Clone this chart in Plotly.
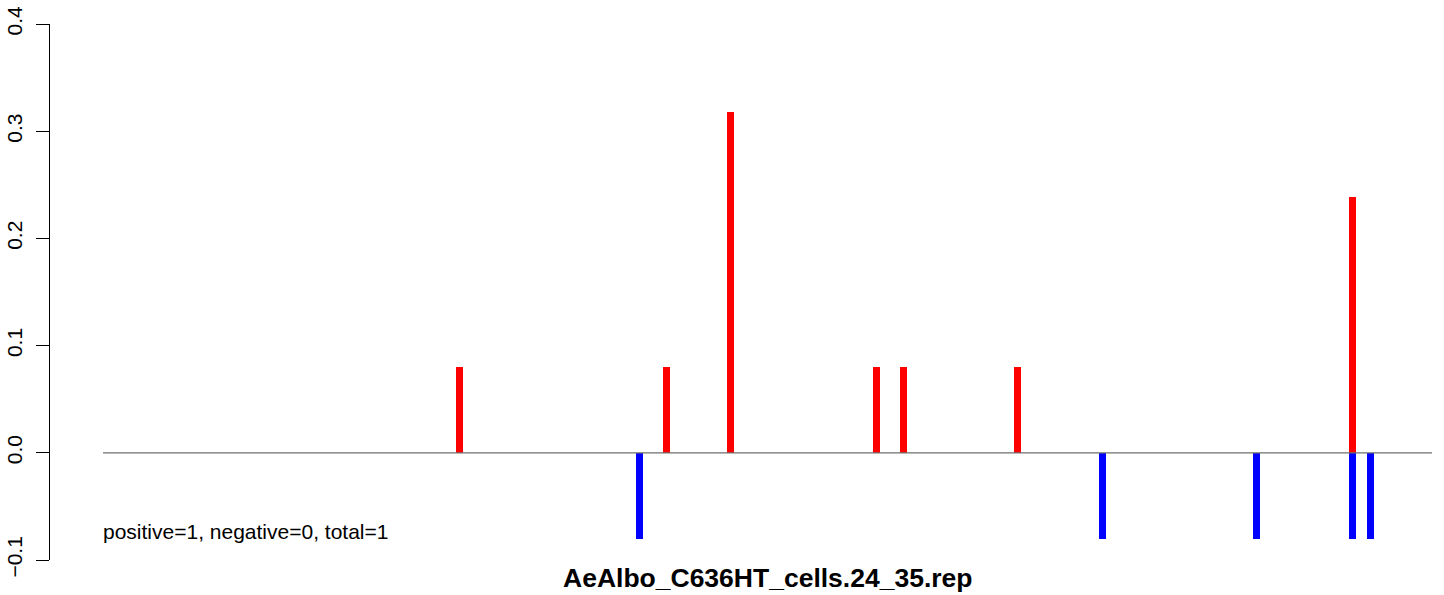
import plotly.graph_objects as go

# Data (positions along the read, arbitrary units 0..500)
pos_positions = [134, 212, 236, 291, 301, 344, 470]
pos_values = [0.08, 0.08, 0.318, 0.08, 0.08, 0.08, 0.239]
neg_positions = [202, 376, 434, 470, 477]
neg_values = [-0.08, -0.08, -0.08, -0.08, -0.08]
baseline_x = [0, 500]
y_ticks = [-0.1, 0.0, 0.1, 0.2, 0.3, 0.4]
y_tick_labels = ["\u22120.1", "0.0", "0.1", "0.2", "0.3", "0.4"]
title_text = "AeAlbo_C636HT_cells.24_35.rep"
note_text = "positive=1, negative=0, total=1"

FONT = "Liberation Sans, Arial, sans-serif"

fig = go.Figure()
fig.add_trace(go.Scatter(x=baseline_x, y=[0, 0], mode="lines",
                         line=dict(color="#6e6e6e", width=1.3),
                         hoverinfo="skip", showlegend=False))
fig.add_trace(go.Bar(x=pos_positions, y=pos_values, base=0, width=2.63,
                     marker=dict(color="#ff0000", line=dict(width=0)),
                     showlegend=False))
fig.add_trace(go.Bar(x=neg_positions, y=neg_values, base=0, width=2.63,
                     marker=dict(color="#0000ff", line=dict(width=0)),
                     showlegend=False))

fig.add_annotation(x=0, y=-0.073, xref="x", yref="y", text=note_text,
                   showarrow=False, xanchor="left", yanchor="middle", xshift=-2,
                   font=dict(family=FONT, size=21, color="black"))
fig.add_annotation(x=250, y=-0.1, xref="x", yref="y", text="<b>" + title_text + "</b>",
                   showarrow=False, xanchor="center", yanchor="top", yshift=-1,
                   font=dict(family=FONT, size=26.5, color="black"))

fig.update_layout(
    width=1444, height=595,
    margin=dict(l=50, r=0, t=24, b=35, autoexpand=False),
    paper_bgcolor="white", plot_bgcolor="white",
    barmode="overlay", bargap=0,
    showlegend=False,
    xaxis=dict(range=[-19.94, 504.5], visible=False, showgrid=False, zeroline=False,
               automargin=False),
    yaxis=dict(range=[-0.1, 0.4], tickvals=y_ticks, ticktext=y_tick_labels,
               tickangle=-90, ticks="outside", ticklen=13, tickwidth=1.2,
               tickcolor="black", showline=True, linecolor="black", linewidth=1.2,
               showgrid=False, zeroline=False, ticklabelstandoff=6, automargin=False,
               tickfont=dict(family=FONT, size=21, color="black")),
)

fig.write_html("out.html", config={"displayModeBar": False},
               post_script="document.body.style.margin='0px';document.body.style.overflow='hidden';")
